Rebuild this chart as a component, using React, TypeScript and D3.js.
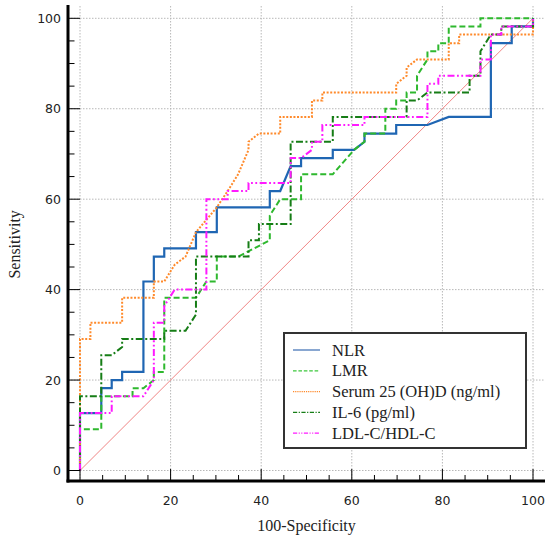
import * as d3 from 'd3';

type Pt = [number, number];

// ROC points: [100-specificity, sensitivity]
const nlr: Pt[] = [
  [0, 0], [0, 12.7], [4.7, 12.7], [4.7, 18.2], [7.0, 18.2], [7.0, 20.0], [9.3, 20.0], [9.3, 21.8],
  [14.0, 21.8], [14.0, 41.8], [16.3, 41.8], [16.3, 47.3], [18.6, 47.3], [18.6, 49.1], [25.6, 49.1],
  [25.6, 52.7], [30.2, 52.7], [30.2, 58.2], [41.9, 58.2], [41.9, 61.8], [44.2, 61.8], [46.5, 67.3],
  [48.8, 67.3], [48.8, 69.1], [55.8, 69.1], [55.8, 70.9], [60.5, 70.9], [62.8, 72.7], [62.8, 74.5],
  [69.8, 74.5], [69.8, 76.4], [76.7, 76.4], [81.4, 78.2], [90.7, 78.2], [90.7, 94.5], [95.3, 94.5],
  [95.3, 98.2], [100, 98.2], [100, 100],
];

const lmr: Pt[] = [
  [0, 0], [0, 9.1], [4.7, 9.1], [4.7, 16.4], [11.6, 16.4], [11.6, 18.2], [14.0, 18.2], [16.3, 20.0],
  [16.3, 21.8], [18.6, 21.8], [18.6, 38.2], [25.6, 38.2], [27.9, 41.8], [30.2, 41.8], [30.2, 47.3],
  [34.9, 47.3], [41.9, 50.9], [41.9, 56.4], [44.2, 60.0], [48.8, 60.0], [48.8, 65.5], [55.8, 65.5],
  [60.5, 70.9], [62.8, 72.7], [62.8, 74.5], [67.4, 74.5], [67.4, 80.0], [69.8, 80.0], [69.8, 81.8],
  [72.1, 81.8], [72.1, 83.6], [74.4, 83.6], [74.4, 87.3], [76.7, 90.9], [76.7, 92.7], [79.1, 92.7],
  [79.1, 94.5], [81.4, 94.5], [81.4, 98.2], [88.4, 98.2], [88.4, 100], [100, 100],
];

const vitD: Pt[] = [
  [0, 0], [0, 29.1], [2.3, 29.1], [2.3, 32.7], [9.3, 32.7], [9.3, 38.2], [16.3, 38.2], [16.3, 41.8],
  [18.6, 41.8], [20.9, 45.5], [23.3, 47.3], [25.6, 52.7], [30.2, 58.2], [32.6, 61.8], [34.9, 65.5],
  [37.2, 70.9], [37.2, 72.7], [39.5, 74.5], [44.2, 74.5], [44.2, 78.2], [51.2, 78.2], [51.2, 81.8],
  [53.5, 81.8], [53.5, 83.6], [69.8, 83.6], [69.8, 85.5], [72.1, 87.3], [72.1, 89.1], [74.4, 90.9],
  [81.4, 90.9], [81.4, 94.5], [83.7, 94.5], [83.7, 96.4], [100, 96.4], [100, 100],
];

const il6: Pt[] = [
  [0, 0], [0, 16.4], [4.7, 16.4], [4.7, 25.5], [7.0, 25.5], [9.3, 27.3], [9.3, 29.1], [18.6, 29.1],
  [18.6, 30.9], [23.3, 30.9], [25.6, 34.5], [25.6, 47.3], [37.2, 47.3], [37.2, 50.9], [39.5, 50.9],
  [39.5, 54.5], [46.5, 54.5], [46.5, 72.7], [55.8, 72.7], [55.8, 78.2], [72.1, 78.2], [72.1, 81.8],
  [74.4, 81.8], [76.7, 83.6], [86.0, 83.6], [86.0, 87.3], [88.4, 87.3], [88.4, 92.7], [90.7, 96.4],
  [93.0, 96.4], [93.0, 98.2], [100, 98.2], [100, 100],
];

const ldlHdl: Pt[] = [
  [0, 0], [0, 12.7], [7.0, 12.7], [7.0, 16.4], [14.0, 16.4], [16.3, 20.0], [16.3, 32.7], [18.6, 32.7],
  [18.6, 36.4], [20.9, 40.0], [27.9, 40.0], [27.9, 60.0], [32.6, 60.0], [32.6, 61.8], [37.2, 61.8],
  [37.2, 63.6], [46.5, 63.6], [46.5, 69.1], [48.8, 69.1], [51.2, 70.9], [51.2, 72.7], [53.5, 72.7],
  [53.5, 76.4], [62.8, 76.4], [62.8, 78.2], [76.7, 78.2], [76.7, 85.5], [79.1, 85.5], [79.1, 87.3],
  [88.4, 87.3], [88.4, 90.9], [90.7, 90.9], [90.7, 96.4], [93.0, 96.4], [93.0, 98.2], [100, 98.2],
  [100, 100],
];

const majorTicks = [0, 20, 40, 60, 80, 100];
const minorTicks = d3.range(0, 101, 5).filter((v) => v % 20 !== 0);

const series = [
  { name: 'NLR', data: nlr, color: '#1f66b3', width: 2.2, dash: undefined, legendColor: '#4a78b8' },
  { name: 'LMR', data: lmr, color: '#2eb82e', width: 2, dash: '6,3', legendColor: '#3cc83c' },
  { name: 'Serum 25 (OH)D (ng/ml)', data: vitD, color: '#ff8a2b', width: 2, dash: '2,1.6', legendColor: '#ff8a2b' },
  { name: 'IL-6 (pg/ml)', data: il6, color: '#167d16', width: 2, dash: '7,2.5,2,2.5', legendColor: '#167d16' },
  { name: 'LDL-C/HDL-C', data: ldlHdl, color: '#ff1aff', width: 2, dash: '7,2.5,1.8,2.5,1.8,2.5', legendColor: '#ff1aff' },
];

const W = 550;
const H = 540;
const frame = { left: 68, right: 545, top: 6, bottom: 481 };

export default function App() {
  const x = d3.scaleLinear().domain([0, 100]).range([80, 533]);
  const y = d3.scaleLinear().domain([0, 100]).range([470.5, 18.3]);
  const line = d3.line<Pt>().x((d) => x(d[0])).y((d) => y(d[1]));

  const serif = 'Liberation Serif, Times New Roman, serif';
  const sans = 'DejaVu Sans, Verdana, sans-serif';

  return (
    <div style={{ position: 'absolute', left: 0, top: 0 }}>
      <svg width={W} height={H} style={{ display: 'block', background: '#fff' }}>
        {/* grid */}
        <g stroke="#b8b8b8" strokeWidth={1} strokeDasharray="1.5,1.5">
          {majorTicks.map((v) => (
            <line key={`gx${v}`} x1={x(v)} x2={x(v)} y1={frame.top} y2={frame.bottom} />
          ))}
          {majorTicks.map((v) => (
            <line key={`gy${v}`} x1={frame.left} x2={frame.right} y1={y(v)} y2={y(v)} />
          ))}
        </g>

        {/* reference diagonal */}
        <line x1={x(0)} y1={y(0)} x2={x(100)} y2={y(100)} stroke="#f08585" strokeWidth={1} />

        {/* curves */}
        {series.map((s) => (
          <path
            key={s.name}
            d={line(s.data) ?? ''}
            fill="none"
            stroke={s.color}
            strokeWidth={s.width}
            strokeDasharray={s.dash}
            strokeLinejoin="miter"
          />
        ))}

        {/* axes */}
        <g stroke="#000">
          <line x1={frame.left} x2={frame.left} y1={frame.top - 1} y2={frame.bottom + 1.5} strokeWidth={3} />
          <line x1={frame.left - 1.5} x2={frame.right} y1={frame.bottom} y2={frame.bottom} strokeWidth={3} />
          {majorTicks.map((v) => (
            <line key={`ty${v}`} x1={frame.left} x2={frame.left + 12} y1={y(v)} y2={y(v)} strokeWidth={1} />
          ))}
          {minorTicks.map((v) => (
            <line key={`my${v}`} x1={frame.left} x2={frame.left + 6.5} y1={y(v)} y2={y(v)} strokeWidth={1} />
          ))}
          {majorTicks.map((v) => (
            <line key={`tx${v}`} x1={x(v)} x2={x(v)} y1={frame.bottom} y2={frame.bottom - 12} strokeWidth={1} />
          ))}
          {minorTicks.map((v) => (
            <line key={`mx${v}`} x1={x(v)} x2={x(v)} y1={frame.bottom} y2={frame.bottom - 6} strokeWidth={1} />
          ))}
        </g>

        {/* tick labels */}
        <g fontFamily={sans} fontSize={12.5} fill="#222">
          {majorTicks.map((v) => (
            <text key={`ly${v}`} x={61} y={y(v) + 4.5} textAnchor="end">
              {v}
            </text>
          ))}
          {majorTicks.map((v) => (
            <text key={`lx${v}`} x={x(v)} y={505} textAnchor="middle">
              {v}
            </text>
          ))}
        </g>

        {/* axis titles */}
        <text x={(x(0) + x(100)) / 2} y={531} textAnchor="middle" fontFamily={serif} fontSize={16} fill="#222">
          100-Specificity
        </text>
        <text
          transform={`translate(20, ${(y(0) + y(100)) / 2}) rotate(-90)`}
          textAnchor="middle"
          fontFamily={serif}
          fontSize={16}
          fill="#222"
        >
          Sensitivity
        </text>

        {/* legend */}
        <g>
          <rect x={284} y={333} width={242} height={115} fill="#fff" stroke="#333" strokeWidth={2} />
          {series.map((s, i) => {
            const cy = 350 + i * 20.8;
            return (
              <g key={`lg${s.name}`}>
                <line
                  x1={293}
                  x2={320}
                  y1={cy}
                  y2={cy}
                  stroke={s.legendColor}
                  strokeWidth={1.3}
                  strokeDasharray={s.dash ? s.dash.split(',').map((d) => Number(d) * 0.6).join(',') : undefined}
                />
                <text x={332} y={cy + 5.5} fontFamily={serif} fontSize={16.5} fill="#222">
                  {s.name}
                </text>
              </g>
            );
          })}
        </g>
      </svg>
    </div>
  );
}
